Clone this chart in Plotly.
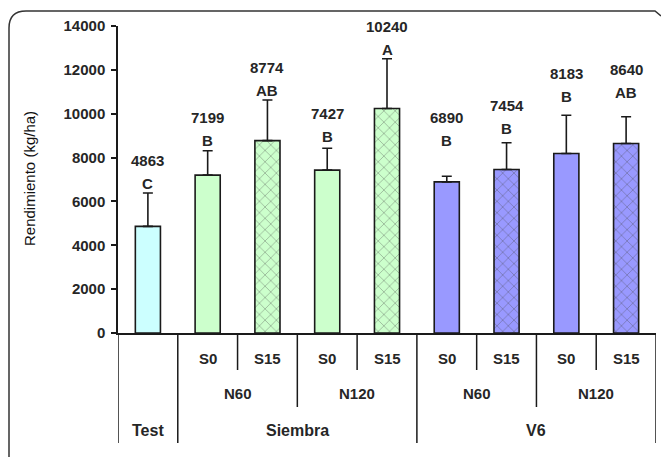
import plotly.graph_objects as go

# Rendimiento por tratamiento (kg/ha)
momento = ["Test", "Siembra", "V6"]
dosis_n = ["N60", "N120", "N60", "N120"]
azufre = ["", "S0", "S15", "S0", "S15", "S0", "S15", "S0", "S15"]
rendimiento = [4863, 7199, 8774, 7427, 10240, 6890, 7454, 8183, 8640]
desvio = [1521, 1114, 1851, 996, 2268, 256, 1224, 1744, 1224]
letras = ["C", "B", "AB", "B", "A", "B", "B", "B", "AB"]
y_ticks = [0, 2000, 4000, 6000, 8000, 10000, 12000, 14000]

# placement of the letter labels (kg/ha on the y scale)
letra_y = [6820, 8760, 11040, 8980, 12950, 8780, 9330, 10770, 10970]

x = list(range(len(rendimiento)))
colores = ["#CCFFFF"] + ["#CCFFCC"] * 4 + ["#9999FF"] * 4
tramas = ["x" if s == "S15" else "" for s in azufre]

FONT = "Arial, Liberation Sans, sans-serif"
TXT = "#262626"
W, H = 661, 457
L, R, T, B = 118, 5, 26, 124
PW, PH = W - L - R, H - T - B


def px(xp):
    return (xp - L) / PW


def py(yp):
    return (T + PH - yp) / PH


fig = go.Figure()
fig.add_trace(go.Bar(
    x=x, y=rendimiento, width=0.42,
    marker=dict(
        color=colores,
        line=dict(color="#1a1a1a", width=1.6),
        pattern=dict(shape=tramas, fgcolor="#8c8c8c", size=8,
                     solidity=0.16, fillmode="overlay"),
    ),
    error_y=dict(type="data", array=desvio, arrayminus=[0] * len(desvio),
                 symmetric=False, color="#1a1a1a", thickness=1.6, width=5),
    showlegend=False, hoverinfo="skip",
))

ann = []
for xi, v, let, ly in zip(x, rendimiento, letras, letra_y):
    ann.append(dict(x=xi, y=ly, xref="x", yref="y", text=f"<b>{let}</b>", showarrow=False,
                    yanchor="middle", font=dict(family=FONT, size=15, color=TXT)))
    ann.append(dict(x=xi, y=ly, xref="x", yref="y", text=f"<b>{v}</b>", showarrow=False,
                    yanchor="middle", yshift=23, font=dict(family=FONT, size=15, color=TXT)))

# category table below the axis
y1, y2, y3 = py(358), py(393), py(430)
for xi, s in zip(x, azufre):
    if s:
        ann.append(dict(x=xi, y=y1, xref="x", yref="paper", text=f"<b>{s}</b>",
                        showarrow=False, yanchor="middle",
                        font=dict(family=FONT, size=15, color=TXT)))
for xc, n in zip([1.5, 3.5, 5.5, 7.5], dosis_n):
    ann.append(dict(x=xc, y=y2, xref="x", yref="paper", text=f"<b>{n}</b>",
                    showarrow=False, yanchor="middle",
                    font=dict(family=FONT, size=15, color=TXT)))
for xc, m in zip([0, 2.5, 6.5], momento):
    ann.append(dict(x=xc, y=y3, xref="x", yref="paper", text=f"<b>{m}</b>",
                    showarrow=False, yanchor="middle",
                    font=dict(family=FONT, size=16, color=TXT)))

# y-axis title
ann.append(dict(x=px(29), y=py(179), xref="paper", yref="paper",
                text="Rendimiento (kg/ha)", textangle=-90, showarrow=False,
                xanchor="center", yanchor="middle",
                font=dict(family=FONT, size=15, color="#111111", weight=500)))

shapes = []
linea = dict(color="#1a1a1a", width=1.5)
for xb, yb in [(-0.5, 443), (0.5, 443), (1.5, 370), (2.5, 407), (3.5, 370),
               (4.5, 443), (5.5, 370), (6.5, 407), (7.5, 370), (8.5, 443)]:
    shapes.append(dict(type="line", xref="x", yref="paper", x0=xb, x1=xb,
                       y0=0, y1=py(yb), line=linea))

# rounded outer frame
path = (f"M {px(9)},{py(470)} L {px(9)},{py(28)} "
        f"Q {px(9)},{py(11)} {px(26)},{py(11)} L {px(655)},{py(11)} "
        f"L {px(661)},{py(16)}")
shapes.append(dict(type="path", xref="paper", yref="paper", path=path,
                   line=dict(color="#333333", width=1.5)))

fig.update_layout(
    width=W, height=H,
    margin=dict(l=L, r=R, t=T, b=B),
    paper_bgcolor="white", plot_bgcolor="white",
    annotations=ann, shapes=shapes,
    font=dict(family=FONT, color=TXT),
)
fig.update_xaxes(range=[-0.5, 8.5], showticklabels=False, ticks="",
                 showgrid=False, zeroline=False, showline=True,
                 linecolor="#1a1a1a", linewidth=1.5)
fig.update_yaxes(range=[0, 14000], tickvals=y_ticks, ticks="outside",
                 ticklen=5, tickwidth=1.5, tickcolor="#1a1a1a",
                 showgrid=False, zeroline=False, showline=True,
                 linecolor="#1a1a1a", linewidth=1.5,
                 tickfont=dict(family=FONT, size=15, color=TXT, weight="bold"),
                 tickformat="d", ticklabelstandoff=3)

fig.write_html("out.html")
